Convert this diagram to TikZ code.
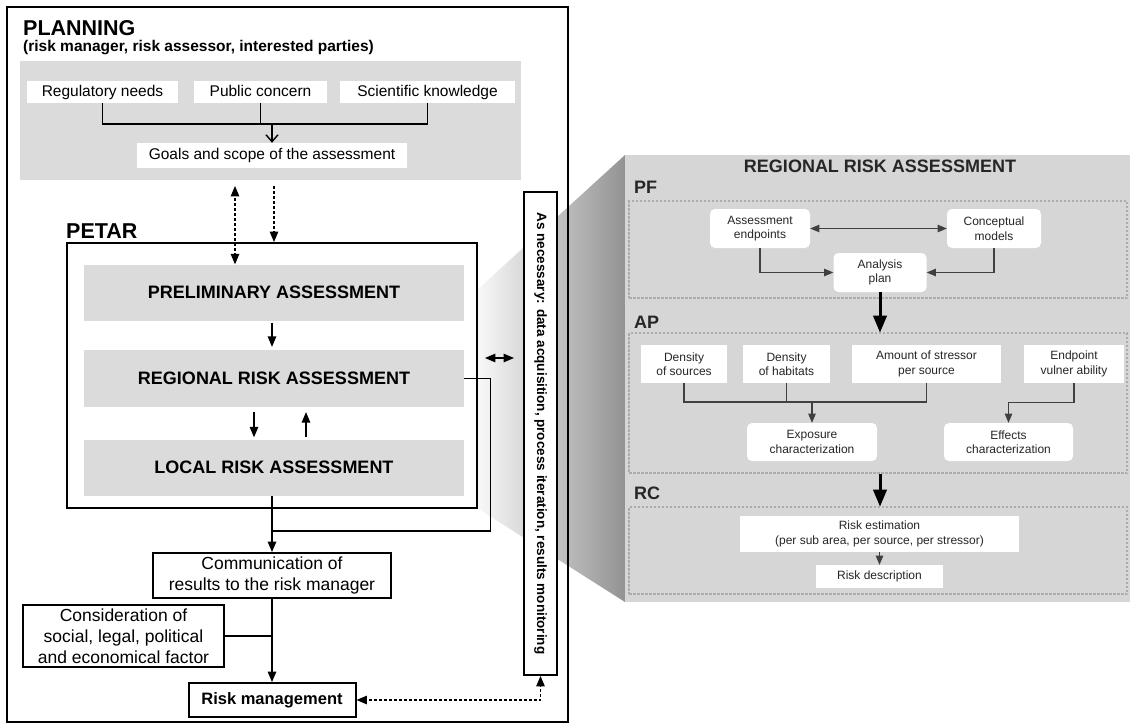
\documentclass[tikz,border=0pt]{standalone}
\usepackage{fontspec}
\setmainfont{Liberation Sans}
\usetikzlibrary{positioning,arrows,arrows.meta,shapes,calc}
\newcommand{\setfs}[2]{\fontsize{#1}{#2}\selectfont}
\tikzset{
  petarframe/.style={draw=black, line width=2pt, fill=white, inner sep=0pt},
  stagebox/.style={fill=gray!28, inner sep=0pt, minimum width=380pt, minimum height=56pt,
    font=\setfs{18}{21}\bfseries},
  planbox/.style={fill=white, inner sep=0pt, minimum height=22pt, text height=11pt,
    text depth=3pt, font=\setfs{15.5}{18}},
  flowbox/.style={draw=black, line width=2pt, fill=white, inner sep=0pt, align=center,
    font=\setfs{17.5}{21}},
  rrabox/.style={fill=white, inner sep=0pt, align=center, text=black!85,
    font=\setfs{12}{14.5}},
  roundbox/.style={rrabox, rounded corners=5pt},
  zone/.style={draw=gray!65, line width=1.2pt, dash pattern=on 2.5pt off 1.5pt,
    inner sep=0pt},
  link/.style={draw=black, line width=1.4pt},
  flow/.style={link, -triangle 45},
  dflow/.style={link, dash pattern=on 3pt off 2pt, -triangle 45},
  rline/.style={draw=black!75, line width=1.1pt},
  rflow/.style={rline, -triangle 45},
  heavy/.style={draw=black, line width=3pt, -triangle 45},
  bigtitle/.style={anchor=base west, inner sep=0pt, font=\setfs{21.5}{25}\bfseries},
  zonetitle/.style={anchor=base west, inner sep=0pt, text=black!85, font=\setfs{18}{22}\bfseries}
}

\begin{document}
\begin{tikzpicture}[x=1pt, y=-1pt]
    \useasboundingbox (0,0) rectangle (1130,728);

    \shade[left color=gray!5, right color=gray!85]
      (477,290) -- (625,155) -- (625,602) -- (477,508) -- cycle;
    \draw[line width=2pt] (7,7) rectangle (568,722);

    \node[bigtitle] (plantitle) at (23,35) {PLANNING};
    \node[anchor=base west, inner sep=0pt, font=\setfs{15.5}{18}\bfseries] (plansub)
      at (23,51) {(risk manager, risk assessor, interested parties)};
    \node[fill=gray!28, inner sep=0pt, minimum width=501pt, minimum height=119pt]
      (plan) at (270.5,120.5) {};
    \node[planbox, minimum width=151pt] (reg) at (102.5,92) {Regulatory needs};
    \node[planbox, minimum width=133pt] (pub) at (260.5,92) {Public concern};
    \node[planbox, minimum width=175pt] (sci) at (427.5,92) {Scientific knowledge};
    \node[planbox, minimum width=270pt, minimum height=25pt] (goals) at (272,155.5)
      {Goals and scope of the assessment};
    \coordinate (pj) at (272,124);
    \draw[link] (reg.south) |- (pj) -| (sci.south);
    \draw[link] (pub.south) -- (pub.south |- pj);
    \draw[link, -{Straight Barb[length=7pt,width=12pt]}] (pj) -- (goals.north);

    \node[petarframe, minimum width=410pt, minimum height=265pt] (petar) at (272,375.5) {};
    \node[bigtitle] (petarlbl) at ([yshift=4pt]petar.north west) {PETAR};
    \node[stagebox] (prelim) at (274,292.5) {PRELIMINARY ASSESSMENT};
    \node[stagebox, minimum height=57pt] (regional) at (274,378.5) {REGIONAL RISK ASSESSMENT};
    \node[stagebox] (local) at (274,467.5) {LOCAL RISK ASSESSMENT};
    \draw[flow, shorten <=2pt, shorten >=3pt] ([xshift=-2pt]prelim.south) -- ([xshift=-2pt]regional.north);
    \draw[flow, shorten <=5pt, shorten >=2pt] ([xshift=-20pt]regional.south) -- ([xshift=-20pt]local.north);
    \draw[flow, shorten <=2pt, shorten >=5pt] ([xshift=32pt]local.north) -- ([xshift=32pt]regional.south);

    \coordinate (pd1) at (235,186);
    \coordinate (pd2) at (274,186);
    \draw[dflow, triangle 45-triangle 45] (pd1) -- (pd1 |- prelim.north);
    \draw[dflow] (pd2) -- (pd2 |- petar.north);

    \node[draw=black, line width=2pt, fill=white, rotate=-90, inner sep=0pt,
      minimum width=483pt, minimum height=33pt, font=\setfs{13.5}{16}\bfseries]
      (vbox) at (540.5,433.5) {As necessary: data acquisition, process iteration, results monitoring};
    \coordinate (lk) at (500,358);
    \draw[flow, triangle 45-triangle 45, shorten <=7pt, shorten >=9pt]
      (petar.east |- lk) -- (vbox.south |- lk);

    \node[flowbox, minimum width=238pt, minimum height=45pt] (comm) at (272,575.5)
      {Communication of\\results to the risk manager};
    \node[flowbox, minimum width=201pt, minimum height=62pt] (consider) at (123.5,636)
      {Consideration of\\social, legal, political\\and economical factor};
    \node[flowbox, minimum width=167pt, minimum height=34pt, font=\setfs{16.5}{19}\bfseries]
      (rm) at (272,700) {Risk management};
    \coordinate (jn) at (272,531);
    \draw[link] (regional.east) -- ++(26,0) |- (jn);
    \draw[flow] (local.south -| jn) -- (comm.north);
    \draw[link] (consider.east) -- (consider.east -| comm.south);
    \draw[flow] (comm.south) -- (rm.north);
    \draw[dflow, triangle 45-triangle 45] (rm.east) -| (vbox.east);

    \node[fill=gray!32, inner sep=0pt, minimum width=505pt, minimum height=447pt]
      (rpanel) at (877.5,378.5) {};
    \node[anchor=base, inner sep=0pt, text=black!85, font=\setfs{18}{22}\bfseries]
      (rtitle) at (880,172) {REGIONAL RISK ASSESSMENT};
    \node[zonetitle] (pflbl) at (634,193) {PF};
    \node[zone, minimum width=498pt, minimum height=97pt] (pfz) at (878,249.5) {};
    \node[zonetitle] (aplbl) at (634,328) {AP};
    \node[zone, minimum width=498pt, minimum height=140pt] (apz) at (878,403) {};
    \node[zonetitle] (rclbl) at (634,499) {RC};
    \node[zone, minimum width=498pt, minimum height=87pt] (rcz) at (878,550.5) {};

    \node[roundbox, minimum width=100pt, minimum height=39pt] (ae) at (760,228.5)
      {Assessment\\endpoints};
    \node[roundbox, minimum width=94pt, minimum height=39pt] (cm) at (994,228.5)
      {Conceptual\\models};
    \node[roundbox, minimum width=93pt, minimum height=39pt] (ap) at (880,272.5)
      {Analysis\\plan};
    \draw[rflow, triangle 45-triangle 45] (ae.east) -- (cm.west);
    \draw[rflow] (ae.south) |- (ap.west);
    \draw[rflow] (cm.south) |- (ap.east);
    \draw[heavy] (ap.south) -- (ap.south |- apz.north);

    \node[rrabox, minimum width=86pt, minimum height=38pt] (dsrc) at (684,364)
      {Density\\of sources};
    \node[rrabox, minimum width=87pt, minimum height=38pt] (dhab) at (786.5,364)
      {Density\\of habitats};
    \node[rrabox, minimum width=149pt, minimum height=38pt] (amt) at (926.5,364)
      {Amount of stressor\\per source};
    \node[rrabox, minimum width=100pt, minimum height=38pt] (evul) at (1074,364)
      {Endpoint\\vulner ability};
    \node[roundbox, minimum width=130pt, minimum height=38pt] (exp) at (812,442)
      {Exposure\\characterization};
    \node[roundbox, minimum width=129pt, minimum height=38pt] (eff) at (1008.5,442)
      {Effects\\characterization};
    \coordinate (bj) at (812,402);
    \draw[rline] (dsrc.south) |- (bj) -| (amt.south);
    \draw[rline] (dhab.south) -- (dhab.south |- bj);
    \draw[rflow] (bj) -- (exp.north);
    \draw[rflow] (evul.south) -- ++(0,19) -| (eff.north);
    \draw[heavy] (apz.south -| ap.south) -- (rcz.north -| ap.south);

    \node[rrabox, minimum width=279pt, minimum height=36pt] (rest) at (879.5,534)
      {Risk estimation\\(per sub area, per source, per stressor)};
    \node[rrabox, minimum width=127pt, minimum height=23pt] (rdesc) at (879.5,576.5)
      {Risk description};
    \draw[rflow] (rest.south) -- (rdesc.north);
  \end{tikzpicture}
\end{document}
